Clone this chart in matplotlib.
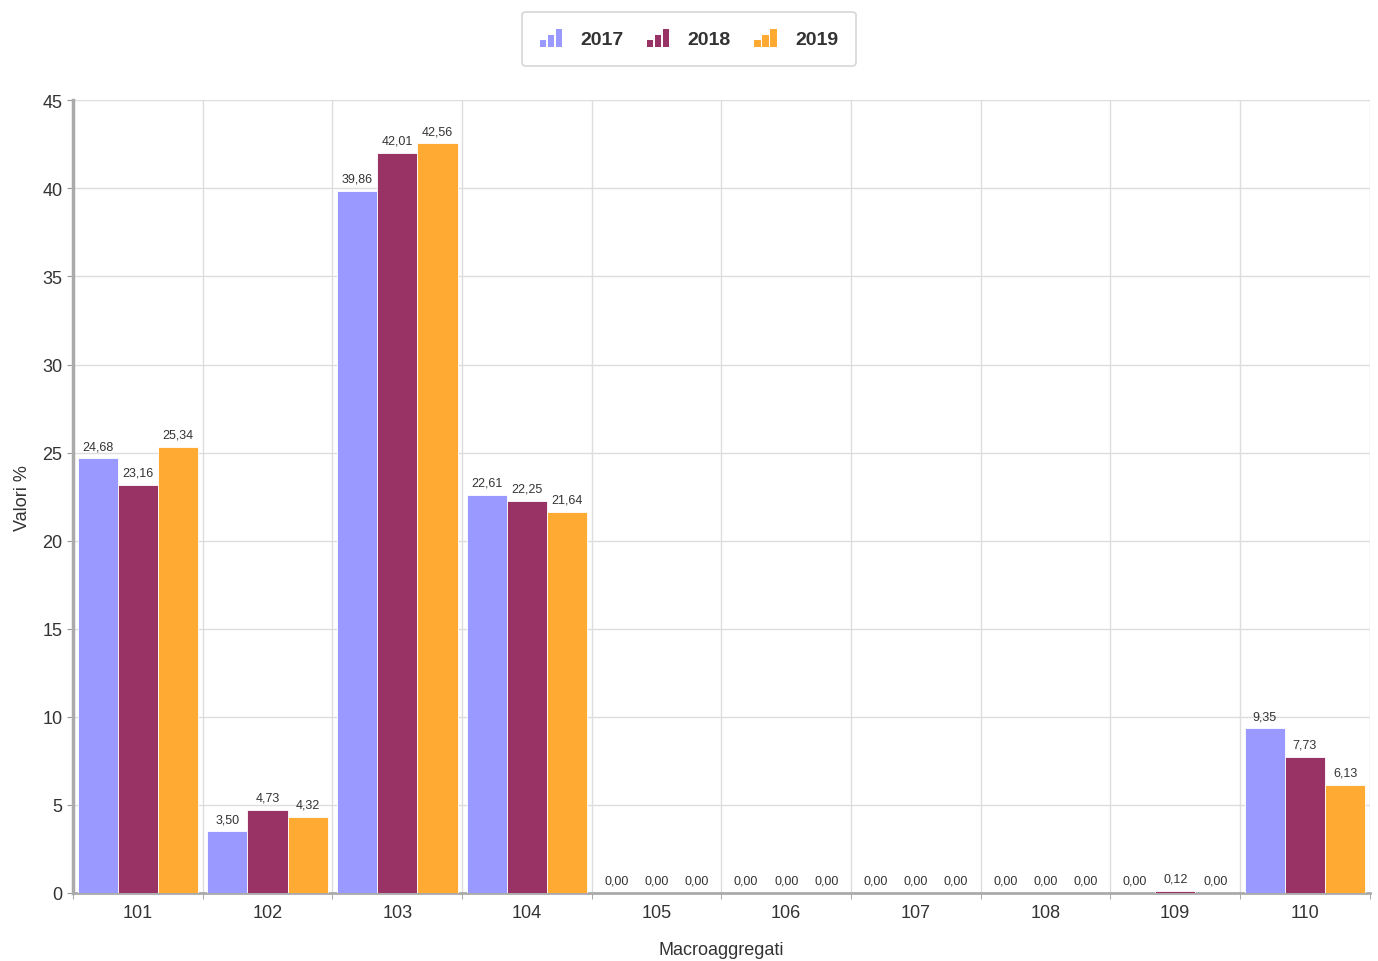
import numpy as np
import matplotlib.pyplot as plt
from matplotlib.patches import Rectangle
from matplotlib.legend_handler import HandlerBase

plt.rcParams['font.family'] = ['Liberation Sans', 'DejaVu Sans']

# dati
categorie = ['101', '102', '103', '104', '105', '106', '107', '108', '109', '110']
anni = ['2017', '2018', '2019']
v2017 = [24.68, 3.50, 39.86, 22.61, 0.00, 0.00, 0.00, 0.00, 0.00, 9.35]
v2018 = [23.16, 4.73, 42.01, 22.25, 0.00, 0.00, 0.00, 0.00, 0.12, 7.73]
v2019 = [25.34, 4.32, 42.56, 21.64, 0.00, 0.00, 0.00, 0.00, 0.00, 6.13]
colori = ['#9999ff', '#993366', '#ffaa33']


class BarIcon(HandlerBase):
    # piccola icona a tre barre crescenti come nel grafico originale
    def create_artists(self, legend, orig_handle, xdescent, ydescent,
                       width, height, fontsize, trans):
        c = orig_handle.get_facecolor()
        arts = []
        w = width / 3.8
        for i, h in enumerate([0.35, 0.65, 1.0]):
            r = Rectangle((xdescent + i * w * 1.3, -ydescent), w, height * h,
                          facecolor=c, edgecolor='none', transform=trans)
            arts.append(r)
        return arts


fig = plt.figure(figsize=(13.78, 9.62), dpi=100)
ax = fig.add_axes([0.053, 0.0707, 0.941, 0.824])

x = np.arange(len(categorie))
bw = 0.31
handles = []
for i, (vals, col) in enumerate(zip([v2017, v2018, v2019], colori)):
    pos = x + (i - 1) * bw
    b = ax.bar(pos, vals, width=bw, color=col, edgecolor='white', linewidth=0.6, zorder=3)
    handles.append(b[0])
    for p, v in zip(pos, vals):
        ax.text(p, v + 0.35, f'{v:.2f}'.replace('.', ','), ha='center', va='bottom',
                fontsize=9, color='#333333', zorder=4)

ax.set_xlim(-0.5, len(categorie) - 0.5)
ax.set_ylim(0, 45)
ax.set_yticks(range(0, 46, 5))
ax.set_xticks(x)
ax.set_xticklabels(categorie)
ax.set_xticks(np.arange(-0.5, len(categorie), 1), minor=True)
ax.grid(axis='y', color='#dddddd', linewidth=1, zorder=0)
ax.grid(axis='x', which='minor', color='#dddddd', linewidth=1, zorder=0)
ax.tick_params(axis='x', which='major', length=0, labelsize=13, colors='#333333', pad=8)
ax.tick_params(axis='x', which='minor', length=4, color='#999999')
ax.tick_params(axis='y', length=4, color='#999999', labelsize=13, labelcolor='#333333')

for s in ['top', 'right']:
    ax.spines[s].set_visible(False)
ax.spines['left'].set_color('#aaaaaa')
ax.spines['left'].set_linewidth(2.5)
ax.spines['bottom'].set_color('#aaaaaa')
ax.spines['bottom'].set_linewidth(2)

ax.set_xlabel('Macroaggregati', fontsize=13, color='#333333', labelpad=14)
ax.set_ylabel('Valori %', fontsize=13, color='#333333', labelpad=8)

leg = fig.legend(handles, anni, loc='upper center', bbox_to_anchor=(0.5, 0.997), ncol=3,
                 handler_map={h: BarIcon() for h in handles}, frameon=True,
                 prop={'weight': 'bold', 'size': 14}, handlelength=1.2, handleheight=1.0,
                 handletextpad=0.9, columnspacing=1.2, borderpad=0.9, fancybox=True)
leg.get_frame().set_edgecolor('#cccccc')
leg.get_frame().set_linewidth(1.2)
for t in leg.get_texts():
    t.set_color('#333333')

fig.savefig('out.png', dpi=100)
